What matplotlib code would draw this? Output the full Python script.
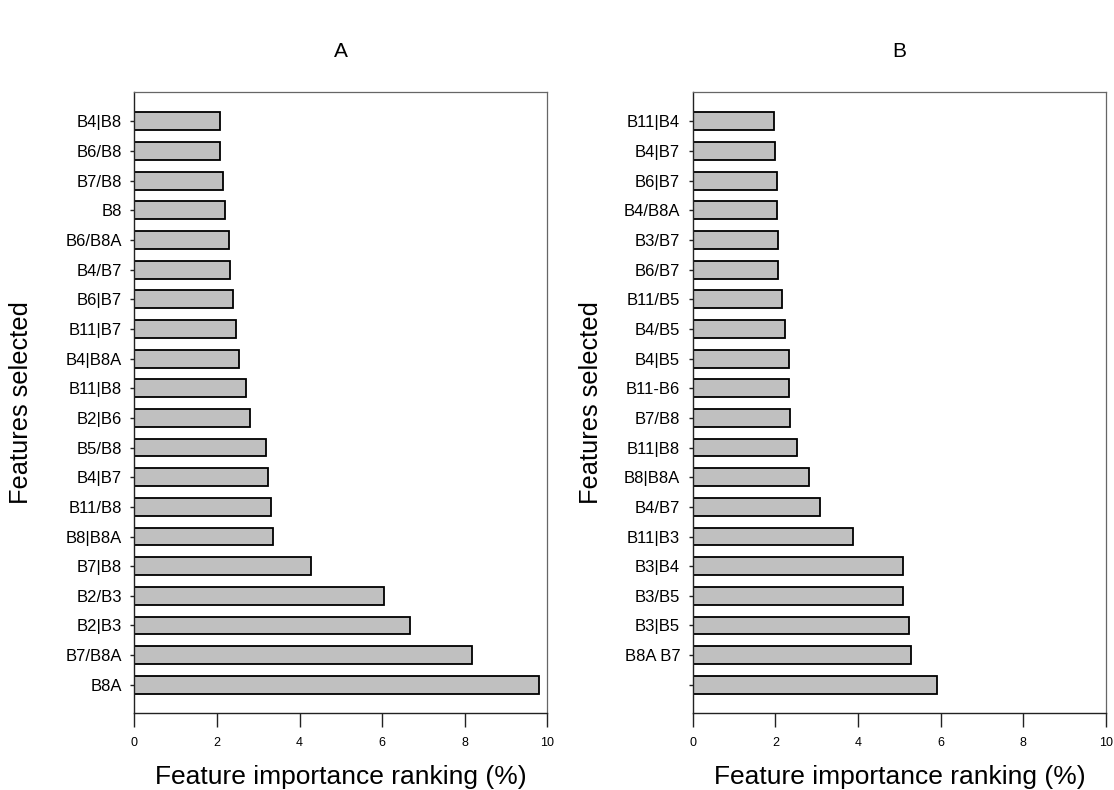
import matplotlib
matplotlib.use("Agg")
import matplotlib.pyplot as plt
import numpy as np

plt.rcParams['font.family'] = ['Liberation Sans', 'DejaVu Sans']

# Panel A: features listed bottom to top
labels_a = ["B8A", "B7/B8A", "B2|B3", "B2/B3", "B7|B8", "B8|B8A", "B11/B8",
            "B4|B7", "B5/B8", "B2|B6", "B11|B8", "B4|B8A", "B11|B7", "B6|B7",
            "B4/B7", "B6/B8A", "B8", "B7/B8", "B6/B8", "B4|B8"]
values_a = [9.81, 8.17, 6.68, 6.05, 4.28, 3.35, 3.30, 3.24, 3.19, 2.79,
            2.71, 2.54, 2.45, 2.40, 2.32, 2.30, 2.20, 2.15, 2.08, 2.08]

# Panel B: features listed bottom to top (lowest bar carries no label)
labels_b = ["", "B8A B7", "B3|B5", "B3/B5", "B3|B4", "B11|B3", "B4/B7",
            "B8|B8A", "B11|B8", "B7/B8", "B11-B6", "B4|B5", "B4/B5", "B11/B5",
            "B6/B7", "B3/B7", "B4/B8A", "B6|B7", "B4|B7", "B11|B4"]
values_b = [5.90, 5.29, 5.24, 5.08, 5.08, 3.87, 3.09, 2.82, 2.52, 2.35,
            2.33, 2.32, 2.23, 2.15, 2.07, 2.07, 2.05, 2.03, 1.98, 1.97]

x_ticks = [0, 2, 4, 6, 8, 10]

fig = plt.figure(figsize=(11.14, 7.90), dpi=100)
ax_a = fig.add_axes([0.1206, 0.0975, 0.3707, 0.786])
ax_b = fig.add_axes([0.6218, 0.0975, 0.3710, 0.786])


def draw_panel(ax, labels, values, title):
    pos = np.arange(len(values))
    ax.barh(pos, values, height=0.6, color="#c0c0c0", edgecolor="black",
            linewidth=1.3)
    ax.set_xlim(0, 10)
    ax.set_ylim(-0.95, len(values) - 0.01)
    ax.set_xticks(x_ticks)
    ax.set_xticklabels([str(t) for t in x_ticks], fontsize=9)
    ax.set_yticks(pos)
    ax.set_yticklabels(labels, fontsize=12)
    ax.tick_params(axis="x", direction="out", length=10, width=1,
                   pad=7, color="#222222")
    ax.tick_params(axis="y", direction="out", length=3, width=1, pad=6,
                   color="#222222")
    for side in ["left", "bottom"]:
        ax.spines[side].set_color("#222222")
        ax.spines[side].set_linewidth(1.0)
    for side in ["top", "right"]:
        ax.spines[side].set_color("#666666")
        ax.spines[side].set_linewidth(0.9)
    ax.set_xlabel("Feature importance ranking (%)", fontsize=19,
                  labelpad=12)
    ax.set_ylabel("Features selected", fontsize=18.3)
    ax.set_title(title, fontsize=15, pad=25.5)


draw_panel(ax_a, labels_a, values_a, "A")
draw_panel(ax_b, labels_b, values_b, "B")

ax_a.yaxis.set_label_coords(-0.245, 0.5)
ax_b.yaxis.set_label_coords(-0.217, 0.5)

fig.savefig("out.png", dpi=100)
